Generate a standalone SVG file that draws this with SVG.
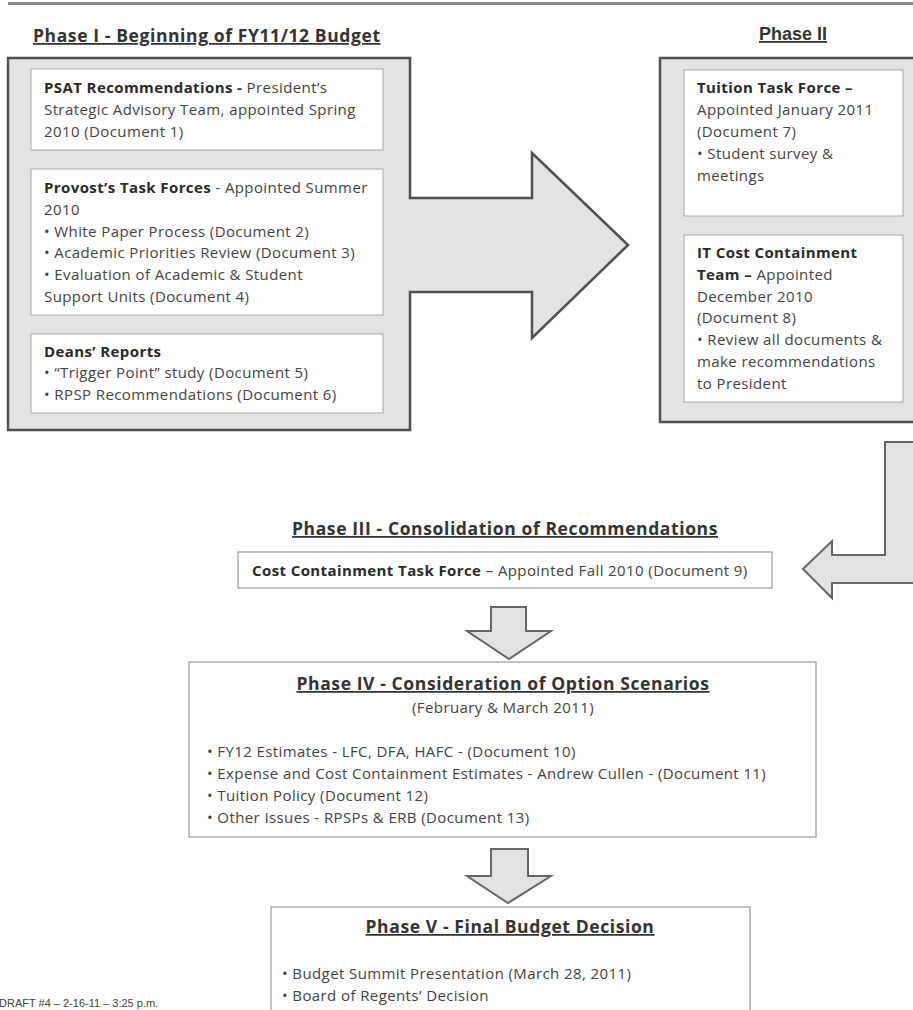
<svg xmlns="http://www.w3.org/2000/svg" width="913" height="1010" viewBox="0 0 913 1010">
<style>
.title{font-family:"Open Sans",Lato,"Liberation Sans",sans-serif;font-weight:bold;font-size:17.5px;letter-spacing:0.6px;fill:#333;text-decoration:underline}
.body{font-family:"Open Sans",Lato,"Liberation Sans",sans-serif;font-size:15px;letter-spacing:0.4px;fill:#444}
.b{font-weight:bold;fill:#2a2a2a}
.outer{fill:#e3e3e3;stroke:#505050;stroke-width:2.5}
.inner{fill:#fff;stroke:#aaa;stroke-width:1}
.phase{fill:#fff;stroke:#999;stroke-width:1.2}
.arrow{fill:#e2e2e2;stroke:#666;stroke-width:2;stroke-linejoin:miter}
</style>
<rect x="8" y="2" width="910" height="3" fill="#8a8a8a"/>

<g id="phase1">
  <text class="title" x="33" y="42">Phase I - Beginning of FY11/12 Budget </text>
  <path class="outer" d="M8,58 H410 V198 H532 V153 L628,245 L532,338 V292 H410 V430 H8 Z"/>
  <g id="psat">
    <rect class="inner" x="31" y="69" width="352" height="81"/>
    <text class="body" x="44" y="93"><tspan class="b">PSAT Recommendations -</tspan> President’s</text>
    <text class="body" x="44" y="115">Strategic Advisory Team, appointed Spring</text>
    <text class="body" x="44" y="137">2010 (Document 1)</text>
  </g>
  <g id="provost">
    <rect class="inner" x="31" y="169" width="352" height="146"/>
    <text class="body" x="44" y="193"><tspan class="b">Provost’s Task Forces</tspan> - Appointed Summer</text>
    <text class="body" x="44" y="215">2010</text>
    <text class="body" x="44" y="237">• White Paper Process (Document 2)</text>
    <text class="body" x="44" y="258">• Academic Priorities Review (Document 3)</text>
    <text class="body" x="44" y="280">• Evaluation of Academic &amp; Student</text>
    <text class="body" x="44" y="302">Support Units (Document 4)</text>
  </g>
  <g id="deans">
    <rect class="inner" x="31" y="334" width="352" height="79"/>
    <text class="body b" x="44" y="357">Deans’ Reports</text>
    <text class="body" x="44" y="378">• “Trigger Point” study (Document 5)</text>
    <text class="body" x="44" y="400">• RPSP Recommendations (Document 6)</text>
  </g>
</g>

<g id="phase2">
  <text x="793" y="40" text-anchor="middle" font-family="Liberation Sans, Arial, sans-serif" font-weight="bold" font-size="18" fill="#333" text-decoration="underline">Phase II</text>
  <rect class="outer" x="660" y="58" width="258" height="364"/>
  <g id="tuition">
    <rect class="inner" x="684" y="70" width="219" height="146"/>
    <text class="body b" x="697" y="93">Tuition Task Force –</text>
    <text class="body" x="697" y="115">Appointed January 2011</text>
    <text class="body" x="697" y="137">(Document 7)</text>
    <text class="body" x="697" y="159">• Student survey &amp;</text>
    <text class="body" x="697" y="181">meetings</text>
  </g>
  <g id="itcost">
    <rect class="inner" x="684" y="235" width="219" height="167"/>
    <text class="body b" x="697" y="258">IT Cost Containment</text>
    <text class="body" x="697" y="280"><tspan class="b">Team –</tspan> Appointed</text>
    <text class="body" x="697" y="302">December 2010</text>
    <text class="body" x="697" y="323">(Document 8)</text>
    <text class="body" x="697" y="345">• Review all documents &amp;</text>
    <text class="body" x="697" y="367">make recommendations</text>
    <text class="body" x="697" y="389">to President</text>
  </g>
</g>

<g id="connectors">
  <path class="arrow" d="M918,442 H885 V555 H832 V541 L803,569 L832,598 V583 H918"/>
  <path class="arrow" d="M491,607 H526 V631 H551 L509,659 L467,631 H491 Z"/>
  <path class="arrow" d="M491,849 H528 V876 H551 L508,903 L467,876 H491 Z"/>
</g>

<g id="phase3">
  <text class="title" x="505" y="535" text-anchor="middle">Phase III - Consolidation of Recommendations</text>
  <rect class="phase" x="238" y="552" width="534" height="36"/>
  <text class="body" x="252" y="576"><tspan class="b">Cost Containment Task Force</tspan> – Appointed Fall 2010 (Document 9)</text>
</g>

<g id="phase4">
  <rect class="phase" x="189" y="662" width="627" height="175"/>
  <text class="title" x="503" y="690" text-anchor="middle">Phase IV - Consideration of Option Scenarios</text>
  <text class="body" x="503" y="713" text-anchor="middle">(February &amp; March 2011)</text>
  <text class="body" x="207" y="757">• FY12 Estimates  - LFC, DFA, HAFC - (Document 10)</text>
  <text class="body" x="207" y="779">• Expense and Cost Containment Estimates - Andrew Cullen - (Document 11)</text>
  <text class="body" x="207" y="801">• Tuition Policy (Document 12)</text>
  <text class="body" x="207" y="823">• Other Issues - RPSPs &amp; ERB (Document 13)</text>
</g>

<g id="phase5">
  <rect class="phase" x="271" y="907" width="479" height="115"/>
  <text class="title" x="510" y="933" text-anchor="middle">Phase V - Final Budget Decision</text>
  <text class="body" x="282" y="979">• Budget Summit Presentation (March 28, 2011)</text>
  <text class="body" x="282" y="1001">• Board of Regents’ Decision</text>
</g>

<text x="-1" y="1007" font-family="Liberation Sans, Arial, sans-serif" font-size="11" fill="#444">DRAFT #4 – 2-16-11 – 3:25 p.m.</text>
</svg>
